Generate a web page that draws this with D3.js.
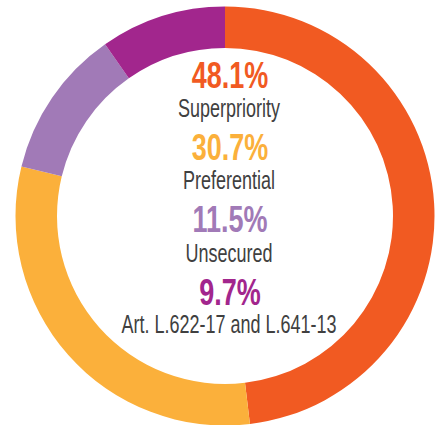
<!DOCTYPE html>
<html>
<head>
<meta charset="utf-8">
<script src="https://cdn.jsdelivr.net/npm/d3@7"></script>
<style>
  html, body { margin: 0; padding: 0; background: #fff; }
  svg { display: block; }
</style>
</head>
<body>
<svg id="chart" width="442" height="425"></svg>
<script>
// data
const categories = ['Superpriority', 'Preferential', 'Unsecured', 'Art. L.622-17 and L.641-13']
const values = [48.1, 30.7, 11.5, 9.7]
const colors = ['#f15a22', '#fbb03b', '#a17ab7', '#a2268d']

const width = 442
const height = 425
const cx = 225
const cy = 216
const outerR = 209.5
const innerR = 168

const svg = d3.select('#chart')
const g = svg.append('g').attr('transform', `translate(${cx},${cy})`)

const pie = d3.pie().sort(null).value(d => d)
const arc = d3.arc().innerRadius(innerR).outerRadius(outerR)

g.selectAll('path')
  .data(pie(values))
  .join('path')
  .attr('d', arc)
  .attr('fill', (d, i) => colors[i])

// center labels - no narrow font installed, so squeeze horizontally
const font = '"Liberation Sans", Arial, sans-serif'
const pctY = [88, 160, 232, 305]
const labY = [117, 189, 262, 333]

const labels = svg.append('g')
values.forEach((v, i) => {
  labels.append('text')
    .attr('transform', `translate(230,${pctY[i]}) scale(0.75,1)`)
    .attr('text-anchor', 'middle')
    .attr('font-family', font)
    .attr('font-weight', 'bold')
    .attr('font-size', 36)
    .attr('fill', colors[i])
    .text(d3.format('.1f')(v) + '%')
  labels.append('text')
    .attr('transform', `translate(229,${labY[i]}) scale(0.72,1)`)
    .attr('text-anchor', 'middle')
    .attr('font-family', font)
    .attr('font-size', 25)
    .attr('fill', '#404040')
    .text(categories[i])
})
</script>
</body>
</html>
